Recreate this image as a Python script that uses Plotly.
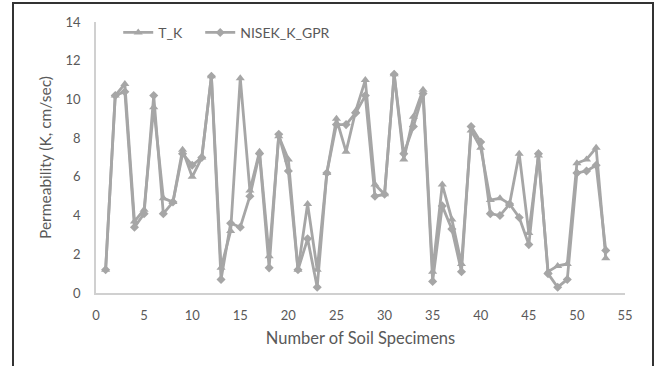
import plotly.graph_objects as go

specimens = list(range(1, 54))
t_k = [1.2, 10.2, 10.8, 3.7, 4.3, 9.6, 4.9, 4.7, 7.4, 6.0,
       7.0, 11.2, 1.3, 3.2, 11.1, 5.3, 7.3, 1.9, 8.1, 6.9,
       1.2, 4.6, 1.2, 6.2, 9.0, 7.3, 9.4, 11.0, 5.6, 5.1,
       11.3, 6.9, 9.1, 10.5, 1.1, 5.6, 3.8, 1.5, 8.4, 7.5,
       4.8, 4.9, 4.6, 7.2, 3.1, 7.1, 1.1, 1.4, 1.5, 6.7,
       6.9, 7.5, 1.8]
nisek_k_gpr = [1.2, 10.2, 10.4, 3.4, 4.1, 10.2, 4.1, 4.7, 7.2, 6.6,
               7.0, 11.2, 0.7, 3.6, 3.4, 5.0, 7.2, 1.3, 8.2, 6.3,
               1.2, 2.8, 0.3, 6.2, 8.7, 8.7, 9.3, 10.2, 5.0, 5.1,
               11.3, 7.2, 8.6, 10.3, 0.6, 4.5, 3.3, 1.1, 8.6, 7.8,
               4.1, 4.0, 4.6, 3.9, 2.5, 7.2, 1.0, 0.3, 0.7, 6.2,
               6.3, 6.6, 2.2]
x_ticks = [0, 5, 10, 15, 20, 25, 30, 35, 40, 45, 50, 55]
y_ticks = [0, 2, 4, 6, 8, 10, 12, 14]

line_gray = "#a6a6a6"
text_gray = "#595959"
font_family = "Lato, 'Open Sans', sans-serif"

fig = go.Figure()
fig.add_trace(go.Scatter(
    x=specimens, y=t_k, name="T_K", mode="lines+markers",
    line=dict(color=line_gray, width=2.8),
    marker=dict(symbol="triangle-up", size=8, color=line_gray),
    legend="legend",
))
fig.add_trace(go.Scatter(
    x=specimens, y=nisek_k_gpr, name="NISEK_K_GPR", mode="lines+markers",
    line=dict(color=line_gray, width=2.8),
    marker=dict(symbol="diamond", size=7, color=line_gray),
    legend="legend2",
))

legend_style = dict(
    orientation="h", y=0.96, xanchor="left", yanchor="middle",
    bgcolor="rgba(0,0,0,0)", font=dict(size=14, color=text_gray),
)

fig.update_layout(
    width=655, height=366,
    margin=dict(l=96, r=30, t=22, b=73),
    paper_bgcolor="white", plot_bgcolor="white",
    font=dict(family=font_family, size=13, color=text_gray),
    showlegend=True,
    legend=dict(x=0.042, **legend_style),
    legend2=dict(x=0.197, **legend_style),
    xaxis=dict(
        range=[0, 55], tickvals=x_ticks, showgrid=False, zeroline=False,
        showline=True, linecolor="#d0d0d0", linewidth=1.5,
        ticks="", ticklabelstandoff=10, tickfont=dict(size=13),
        title=dict(text="Number of Soil Specimens", font=dict(size=16.5, color=text_gray), standoff=10),
    ),
    yaxis=dict(
        range=[0, 14], tickvals=y_ticks, showgrid=False, zeroline=False,
        showline=True, linecolor="#d0d0d0", linewidth=1.5,
        ticks="", ticklabelstandoff=11, tickfont=dict(size=13),
        title=dict(text="Permeability (K, cm/sec)", font=dict(size=15.5, color=text_gray), standoff=10),
    ),
    shapes=[dict(
        type="rect", xref="paper", yref="paper",
        x0=(13 - 96) / 529, x1=(653 - 96) / 529,
        y0=-0.4, y1=(293 - 3) / 271,
        line=dict(color="#333333", width=2), layer="below",
    )],
)

fig.write_html("out.html")
